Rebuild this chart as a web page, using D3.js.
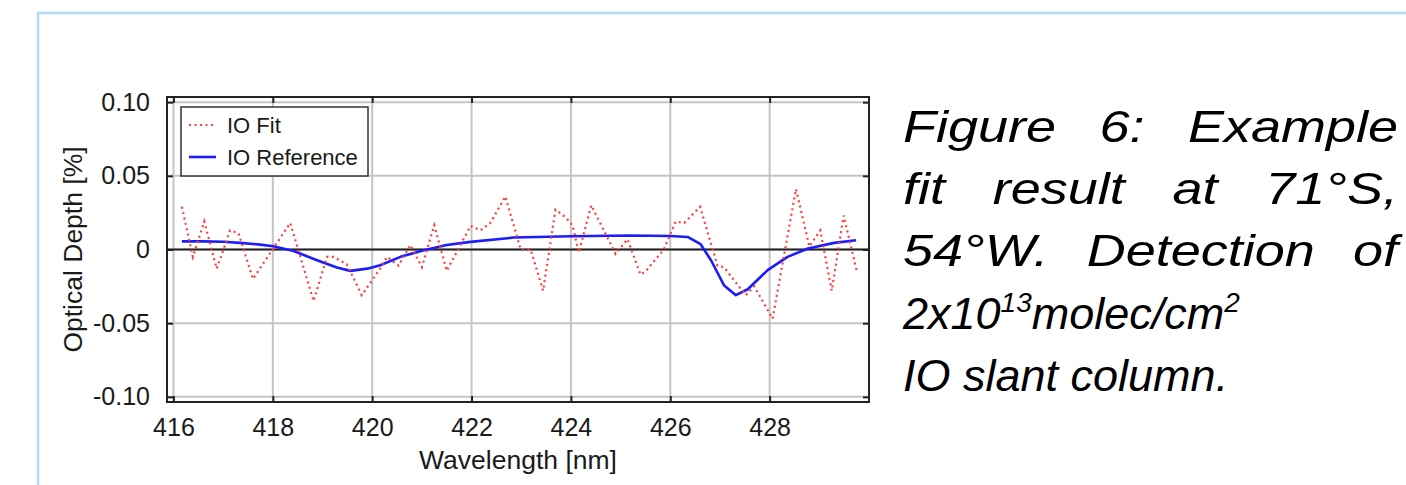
<!DOCTYPE html>
<html>
<head>
<meta charset="utf-8">
<script src="https://cdn.jsdelivr.net/npm/d3@7"></script>
<style>
  html, body { margin: 0; padding: 0; background: #fff; }
  svg { display: block; font-family: "Liberation Sans", Arial, Helvetica, sans-serif; }
</style>
</head>
<body>
<div id="chart"></div>
<script>
// IO Fit (red dotted), wavelength in nm and optical depth in %
const fitWavelength = [416.17, 416.39, 416.62, 416.87, 417.14, 417.31, 417.60, 418.35, 418.82, 419.09,
  419.22, 419.49, 419.79, 420.16, 420.30, 420.53, 420.77, 421.00, 421.25, 421.50,
  421.98, 422.18, 422.38, 422.68, 422.99, 423.19, 423.44, 423.69, 423.89, 424.03,
  424.16, 424.41, 424.90, 425.14, 425.40, 425.50, 425.87, 426.11, 426.28, 426.60,
  426.95, 427.08, 427.52, 427.69, 428.06, 428.53, 428.80, 429.02, 429.25, 429.49, 429.75];
const fitDepth = [0.029, -0.005, 0.019, -0.013, 0.013, 0.011, -0.020, 0.018, -0.035, -0.005,
  -0.005, -0.010, -0.031, -0.013, -0.005, -0.011, 0.003, -0.012, 0.0165, -0.0145,
  0.016, 0.013, 0.018, 0.036, 0.000, 0.000, -0.028, 0.027, 0.022, 0.0165,
  -0.002, 0.030, -0.003, 0.007, -0.017, -0.015, 0.000, 0.019, 0.018, 0.029,
  -0.011, -0.012, -0.031, -0.025, -0.047, 0.041, 0.002, 0.013, -0.028, 0.023, -0.014];

// IO Reference (blue)
const refWavelength = [416.17, 416.6, 417.0, 417.34, 417.7, 418.01, 418.42, 418.89, 419.29, 419.56,
  419.9, 420.16, 420.57, 421.04, 421.5, 421.98, 422.85, 424.0, 425.2, 426.0,
  426.35, 426.61, 426.82, 427.08, 427.32, 427.56, 427.96, 428.36, 428.77, 429.30, 429.74];
const refDepth = [0.0055, 0.0055, 0.0053, 0.0045, 0.0035, 0.0022, -0.001, -0.0073, -0.0122, -0.0145,
  -0.013, -0.0107, -0.005, -0.0005, 0.003, 0.0052, 0.0081, 0.009, 0.0095, 0.0092,
  0.0085, 0.0036, -0.0073, -0.0242, -0.031, -0.027, -0.014, -0.005, 0.0007, 0.0045, 0.0063];

const xTicks = [416, 418, 420, 422, 424, 426, 428];
const yTicks = [-0.10, -0.05, 0, 0.05, 0.10];
const yTickLabels = ["-0.10", "-0.05", "0", "0.05", "0.10"];
const seriesNames = ["IO Fit", "IO Reference"];
const captionLines = [
  ["Figure", "6:", "Example"],
  ["fit", "result", "at", "71°S,"],
  ["54°W.", "Detection", "of"]
];

const W = 1406, H = 485;
const plot = { left: 167, right: 869, top: 97, bottom: 402 };

const svg = d3.select("#chart").append("svg")
  .attr("width", W)
  .attr("height", H);

// slide border (light blue)
svg.append("path")
  .attr("d", `M38,${H} L38,13 L${W},13`)
  .attr("fill", "none")
  .attr("stroke", "#b3dcf7")
  .attr("stroke-width", 2.5);

const x = d3.scaleLinear().domain([415.87, 430]).range([plot.left, plot.right]);
const y = d3.scaleLinear().domain([-0.1035, 0.1035]).range([plot.bottom, plot.top]);

// grid
const grid = svg.append("g");
grid.selectAll(".gx").data(xTicks).join("line")
  .attr("x1", d => x(d)).attr("x2", d => x(d))
  .attr("y1", plot.top).attr("y2", plot.bottom)
  .attr("stroke", "#c4c4c4").attr("stroke-width", 2);
grid.selectAll(".gy").data(yTicks).join("line")
  .attr("x1", plot.left).attr("x2", plot.right)
  .attr("y1", d => y(d)).attr("y2", d => y(d))
  .attr("stroke", "#c4c4c4").attr("stroke-width", 2);

// axes with inward ticks
const tickFont = 25;
const xAxis = svg.append("g").attr("transform", `translate(0,${plot.bottom})`)
  .call(d3.axisBottom(x).tickValues(xTicks).tickSize(-6).tickPadding(16).tickFormat(d3.format("d")));
const xAxisTop = svg.append("g").attr("transform", `translate(0,${plot.top})`)
  .call(d3.axisTop(x).tickValues(xTicks).tickSize(-6).tickFormat(""));
const yAxis = svg.append("g").attr("transform", `translate(${plot.left},0)`)
  .call(d3.axisLeft(y).tickValues(yTicks).tickSize(-6).tickPadding(17).tickFormat((d, i) => yTickLabels[i]));
const yAxisRight = svg.append("g").attr("transform", `translate(${plot.right},0)`)
  .call(d3.axisRight(y).tickValues(yTicks).tickSize(-6).tickFormat(""));

[xAxis, xAxisTop, yAxis, yAxisRight].forEach(a => {
  a.select(".domain").remove();
  a.selectAll(".tick line").attr("stroke", "#222").attr("stroke-width", 2);
  a.selectAll("text")
    .attr("font-size", tickFont)
    .attr("font-family", "Liberation Sans, Arial, sans-serif")
    .attr("fill", "#1a1a1a");
});
xAxis.selectAll("text").attr("dy", "0.71em");

// zero line
svg.append("line")
  .attr("x1", plot.left).attr("x2", plot.right)
  .attr("y1", y(0)).attr("y2", y(0))
  .attr("stroke", "#222").attr("stroke-width", 2);

// frame
svg.append("rect")
  .attr("x", plot.left).attr("y", plot.top)
  .attr("width", plot.right - plot.left).attr("height", plot.bottom - plot.top)
  .attr("fill", "none").attr("stroke", "#222").attr("stroke-width", 2);

// lines
const fitData = fitWavelength.map((w, i) => [w, fitDepth[i]]);
const refData = refWavelength.map((w, i) => [w, refDepth[i]]);
const line = d3.line().x(d => x(d[0])).y(d => y(d[1]));

svg.append("path")
  .datum(refData)
  .attr("d", line)
  .attr("fill", "none")
  .attr("stroke", "#1c1cff")
  .attr("stroke-width", 2.6)
  .attr("stroke-linejoin", "round");

svg.append("path")
  .datum(fitData)
  .attr("d", line)
  .attr("fill", "none")
  .attr("stroke", "#ff3b3b")
  .attr("stroke-width", 2.2)
  .attr("stroke-dasharray", "2,3.5");

// legend
const lg = svg.append("g");
lg.append("rect")
  .attr("x", 181).attr("y", 107).attr("width", 187).attr("height", 69)
  .attr("fill", "#fff").attr("stroke", "#333").attr("stroke-width", 1.5);
const legendRows = [
  { name: seriesNames[0], color: "#ff3b3b", dash: "2,3.5", w: 2.2, yy: 125 },
  { name: seriesNames[1], color: "#1c1cff", dash: null, w: 2.6, yy: 157 }
];
legendRows.forEach(r => {
  lg.append("line")
    .attr("x1", 189).attr("x2", 216).attr("y1", r.yy).attr("y2", r.yy)
    .attr("stroke", r.color).attr("stroke-width", r.w)
    .attr("stroke-dasharray", r.dash);
  lg.append("text")
    .attr("x", 227).attr("y", r.yy).attr("dy", "0.35em")
    .attr("font-size", 22).attr("fill", "#1a1a1a")
    .text(r.name);
});

// axis titles
svg.append("text")
  .attr("x", 518).attr("y", 469)
  .attr("text-anchor", "middle").attr("font-size", 26.5).attr("fill", "#1a1a1a")
  .text("Wavelength [nm]");
svg.append("text")
  .attr("transform", `translate(82,${(plot.top + plot.bottom) / 2}) rotate(-90)`)
  .attr("text-anchor", "middle").attr("font-size", 26.5).attr("fill", "#1a1a1a")
  .text("Optical Depth [%]");

// caption: first three lines justified with horizontally stretched glyphs
const cap = svg.append("g")
  .attr("font-size", 45).attr("font-style", "italic").attr("fill", "#000");
const capLeft = 903, capRight = 1398, stretch = 1.2;
const baselines = [142, 204, 266, 329, 391];
captionLines.forEach((words, li) => {
  const groups = words.map(wd => {
    const g = cap.append("g");
    const t = g.append("text").attr("x", 0).attr("y", 0).text(wd);
    return { g, w: t.node().getComputedTextLength() * stretch };
  });
  const gap = (capRight - capLeft - d3.sum(groups, d => d.w)) / (words.length - 1);
  let cx = capLeft;
  groups.forEach(d => {
    d.g.attr("transform", `translate(${cx},${baselines[li]}) scale(${stretch},1)`);
    cx += d.w + gap;
  });
});
const l4 = cap.append("text").attr("x", capLeft).attr("y", baselines[3]);
l4.append("tspan").text("2x10");
l4.append("tspan").attr("font-size", 28).attr("dy", -17).text("13");
l4.append("tspan").attr("dy", 17).text("molec/cm");
l4.append("tspan").attr("font-size", 28).attr("dy", -17).text("2");
cap.append("text").attr("x", capLeft).attr("y", baselines[4]).text("IO slant column.");
</script>
</body>
</html>
